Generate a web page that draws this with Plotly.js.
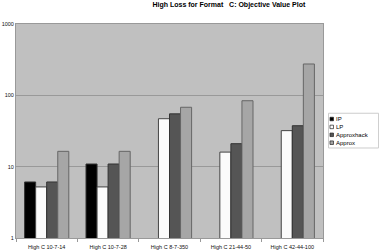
<!DOCTYPE html>
<html><head><meta charset="utf-8">
<script src="https://cdn.plot.ly/plotly-3.0.1.min.js"></script>
<style>html,body{margin:0;padding:0;background:#fff}#c{width:379px;height:251px}</style>
</head><body><div id="c"></div>
<script>
const categories = ["High C 10-7-14", "High C 10-7-28", "High C 8-7-350", "High C 21-44-50", "High C 42-44-100"];
const seriesNames = ["IP", "LP", "Approxhack", "Approx"];
const ipValues = [6.1, 10.9, null, null, null];
const lpValues = [5.2, 5.2, 47, 16, 32];
const approxhackValues = [6.1, 10.9, 55, 21, 37.5];
const approxValues = [16.4, 16.4, 68, 84, 275];
const tickVals = [1, 10, 100, 1000];
const tickText = ["1", "10", "100", "1000"];

const fills = ["#000000", "#fbfbfb", "#555555", "#a6a6a6"];
const lines = ["#333333", "#444444", "#333333", "#666666"];
const allValues = [ipValues, lpValues, approxhackValues, approxValues];

const traces = allValues.map((v, i) => ({
  type: "bar", name: seriesNames[i], x: categories, y: v,
  marker: {color: fills[i], line: {color: lines[i], width: 1}},
  showlegend: false, hoverinfo: "none"
}));

// manual compact legend
const shapes = [], annotations = [];
const lgTop = 0.556, step = 0.0369;
shapes.push({type: "rect", xref: "paper", yref: "paper", x0: 1.018, x1: 1.181, y0: 0.4206, y1: 0.583,
  line: {color: "#cccccc", width: 1}, fillcolor: "#ffffff", layer: "above"});
seriesNames.forEach((n, i) => {
  const yc = lgTop - step * i;
  shapes.push({type: "rect", xref: "paper", yref: "paper", x0: 1.0228, x1: 1.0342, y0: yc - 0.0082, y1: yc + 0.0082,
    fillcolor: fills[i], line: {color: "#222", width: 0.7}, layer: "above"});
  annotations.push({xref: "paper", yref: "paper", x: 1.036, y: yc, xanchor: "left", yanchor: "middle",
    text: n, showarrow: false, font: {family: "Liberation Sans, Arial, sans-serif", size: 6, color: "#000"}});
});

const layout = {
  width: 379, height: 251,
  margin: {l: 16, r: 56, t: 24, b: 13},
  paper_bgcolor: "#ffffff", plot_bgcolor: "#c0c0c0",
  title: {text: "High Loss for Format   C: Objective Value Plot", x: 0.604, xanchor: "center", y: 0.98, yanchor: "middle",
    font: {family: "Liberation Sans, Arial, sans-serif", size: 7, color: "#000", weight: "bold"}},
  barmode: "group", bargap: 0.28, bargroupgap: 0,
  xaxis: {type: "category", tickson: "boundaries", ticks: "outside", ticklen: 3, tickcolor: "#999",
    showline: true, linecolor: "#999", mirror: true, showgrid: false, ticklabelstandoff: 3,
    tickfont: {family: "Liberation Sans, Arial, sans-serif", size: 5.5, color: "#111"}, automargin: false},
  yaxis: {type: "log", range: [0, 3], tickvals: tickVals, ticktext: tickText, ticks: "",
    showgrid: true, gridcolor: "#999999", gridwidth: 1, showline: true, linecolor: "#999", mirror: true,
    tickfont: {family: "Liberation Sans, Arial, sans-serif", size: 5.5, color: "#111"}, zeroline: false, automargin: false},
  showlegend: false, shapes: shapes, annotations: annotations
};
Plotly.newPlot("c", traces, layout, {staticPlot: true, displayModeBar: false});
</script></body></html>
